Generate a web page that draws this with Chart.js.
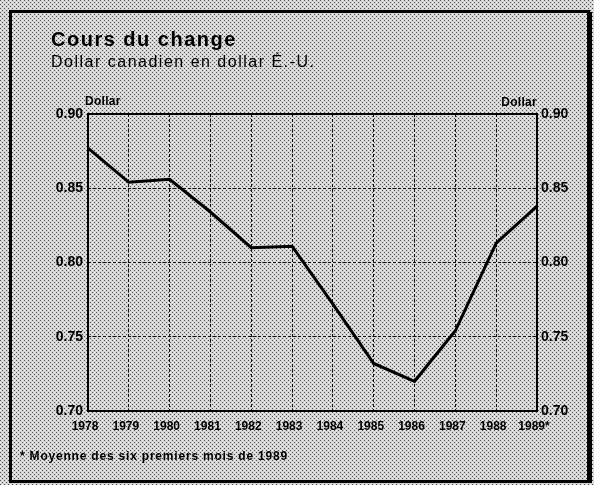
<!DOCTYPE html>
<html lang="fr">
<head>
<meta charset="utf-8">
<title>Cours du change</title>
<script src="https://cdn.jsdelivr.net/npm/chart.js@4.4.1/dist/chart.umd.min.js"></script>
<style>
  html, body { margin: 0; padding: 0; background: #fff; }
  #chart { display: block; }
</style>
</head>
<body>
<canvas id="chart" width="594" height="485"></canvas>
<script>
const years = ['1978', '1979', '1980', '1981', '1982', '1983', '1984', '1985', '1986', '1987', '1988', '1989*'];
const usdPerCad = [0.877, 0.854, 0.856, 0.834, 0.810, 0.811, 0.772, 0.732, 0.720, 0.754, 0.813, 0.838];
const yTicks = [0.70, 0.75, 0.80, 0.85, 0.90];

const titleText = 'Cours du change';
const subtitleText = 'Dollar canadien en dollar É.-U.';
const unitText = 'Dollar';
const noteText = '* Moyenne des six premiers mois de 1989';

Chart.defaults.font.family = "'Liberation Sans', Arial, sans-serif";
Chart.defaults.color = '#000';

function makePaper(ctx) {
  // small halftone tile, like the printed grey
  const tile = document.createElement('canvas');
  tile.width = 4;
  tile.height = 4;
  const t = tile.getContext('2d');
  t.fillStyle = '#d4d4d4';
  t.fillRect(0, 0, 4, 4);
  t.fillStyle = '#505050';
  [[0, 0], [2, 2]].forEach(([x, y]) => t.fillRect(x, y, 1, 1));
  t.fillStyle = '#f2f2f2';
  [[2, 0], [0, 2]].forEach(([x, y]) => t.fillRect(x, y, 1, 1));
  return ctx.createPattern(tile, 'repeat');
}

function drawText(ctx, text, x, y, font, align, spacing) {
  ctx.save();
  ctx.font = font;
  ctx.fillStyle = '#000';
  ctx.textAlign = align || 'left';
  ctx.textBaseline = 'alphabetic';
  ctx.letterSpacing = spacing || '0px';
  ctx.fillText(text, x, y);
  ctx.restore();
}

const pagePlugin = {
  id: 'page',
  beforeDraw(chart) {
    const { ctx, width, height } = chart;
    ctx.save();
    ctx.fillStyle = makePaper(ctx);
    ctx.fillRect(0, 0, width, height);
    ctx.restore();
  },
  afterDraw(chart) {
    const { ctx, chartArea } = chart;
    ctx.save();
    ctx.strokeStyle = '#000';
    ctx.lineWidth = 2;
    ctx.strokeRect(chartArea.left, chartArea.top, chartArea.right - chartArea.left, chartArea.bottom - chartArea.top);
    ctx.lineWidth = 3;
    ctx.strokeRect(10.5, 11.5, 578, 470);
    ctx.lineWidth = 2;
    ctx.beginPath();
    ctx.moveTo(591, 12);
    ctx.lineTo(591, 483);
    ctx.stroke();
    ctx.restore();

    drawText(ctx, titleText, 51, 46, "bold 20px 'Liberation Sans', Arial, sans-serif", 'left', '1.5px');
    drawText(ctx, subtitleText, 51, 67, "16px 'Liberation Sans', Arial, sans-serif", 'left', '1.5px');
    drawText(ctx, unitText, 85, 105, "bold 12px 'Liberation Sans', Arial, sans-serif", 'left', '0.3px');
    drawText(ctx, unitText, 537, 106, "bold 12px 'Liberation Sans', Arial, sans-serif", 'right', '0.3px');
    drawText(ctx, noteText, 20, 460, "bold 12px 'Liberation Sans', Arial, sans-serif", 'left', '0.8px');
  }
};

const rateChart = new Chart(document.getElementById('chart'), {
  type: 'line',
  data: {
    labels: years,
    datasets: [{
      label: 'Dollar canadien',
      data: usdPerCad,
      borderColor: '#000',
      borderWidth: 3,
      pointRadius: 0,
      tension: 0,
      clip: false,
      yAxisID: 'y'
    }]
  },
  options: {
    responsive: false,
    devicePixelRatio: 1,
    animation: false,
    layout: { padding: { top: 114, left: 0, right: 0, bottom: 0 } },
    plugins: { legend: { display: false }, tooltip: { enabled: false }, title: { display: false } },
    scales: {
      x: {
        type: 'category',
        offset: false,
        afterFit: (axis) => { axis.height = 74; },
        grid: { color: '#111', lineWidth: 1, drawTicks: false },
        border: { display: false, dash: [3, 2] },
        ticks: { padding: 8, labelOffset: -3, maxRotation: 0, autoSkip: false, font: { size: 12, weight: 'bold' } }
      },
      y: {
        position: 'left',
        min: 0.70,
        max: 0.90,
        afterFit: (axis) => { axis.width = 88; },
        afterBuildTicks: (axis) => { axis.ticks = yTicks.map((v) => ({ value: v })); },
        grid: { color: '#111', lineWidth: 1, drawTicks: false },
        border: { display: false, dash: [3, 2] },
        ticks: { padding: 5, font: { size: 14, weight: 'bold' }, callback: (v) => Number(v).toFixed(2) }
      },
      y2: {
        position: 'right',
        min: 0.70,
        max: 0.90,
        afterFit: (axis) => { axis.width = 57; },
        afterBuildTicks: (axis) => { axis.ticks = yTicks.map((v) => ({ value: v })); },
        grid: { display: false, drawTicks: false },
        border: { display: false },
        ticks: { padding: 4, font: { size: 14, weight: 'bold' }, callback: (v) => Number(v).toFixed(2) }
      }
    }
  },
  plugins: [pagePlugin]
});
</script>
</body>
</html>
